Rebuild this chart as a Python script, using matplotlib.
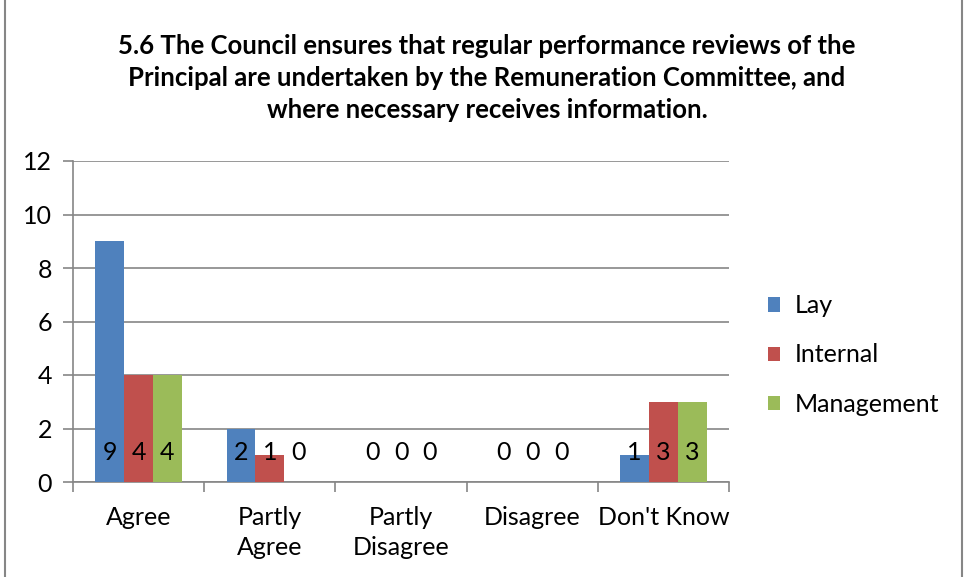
import numpy as np
import matplotlib
matplotlib.use("Agg")
import matplotlib.pyplot as plt
from matplotlib.patches import Rectangle

plt.rcParams['font.family'] = ['Lato', 'DejaVu Sans']

categories = ["Agree", "Partly\nAgree", "Partly\nDisagree", "Disagree", "Don't Know"]
series = ["Lay", "Internal", "Management"]
lay = [9, 2, 0, 0, 1]
internal = [4, 1, 0, 0, 3]
management = [4, 0, 0, 0, 3]
colors = ["#4F81BD", "#C0504D", "#9BBB59"]
title = ("5.6 The Council ensures that regular performance reviews of the\n"
         "Principal are undertaken by the Remuneration Committee, and\n"
         "where necessary receives information.")

fs = 18
fig = plt.figure(figsize=(9.65, 5.77), dpi=100)
ax = fig.add_axes([73 / 965, 1 - 482 / 577, (729 - 73) / 965, (482 - 161) / 577])

x = np.arange(len(categories))
w = 0.22
for i, (vals, c, name) in enumerate(zip([lay, internal, management], colors, series)):
    pos = x + (i - 1) * w
    ax.bar(pos, vals, w, color=c, label=name, zorder=3)
    for p, v in zip(pos, vals):
        ax.text(p, 1.1, str(v), ha='center', va='center', fontsize=fs, zorder=4)

ax.set_xlim(-0.5, len(categories) - 0.5)
ax.set_ylim(0, 12)
ax.set_yticks(range(0, 13, 2))
ax.yaxis.grid(True, color='#868686', linewidth=1.2, zorder=0)
ax.set_xticks(np.arange(-0.5, len(categories), 1), minor=False)
ax.set_xticklabels([])
ax.set_xticks(x, minor=True)
ax.set_xticklabels(categories, minor=True, fontsize=fs, linespacing=1.4)
ax.tick_params(axis='x', which='minor', length=0, pad=17)
ax.tick_params(axis='x', which='major', length=7, color='#868686', width=1.2)
ax.tick_params(axis='y', length=7, color='#868686', width=1.2, labelsize=fs, pad=8)
for s in ['top', 'right']:
    ax.spines[s].set_visible(False)
for s in ['left', 'bottom']:
    ax.spines[s].set_color('#868686')
    ax.spines[s].set_linewidth(1.2)

fig.text(487 / 965, 1 - 77.5 / 577, title, ha='center', va='center',
         fontsize=18.5, fontweight='bold', linespacing=1.4)

ax.legend(loc='center left', bbox_to_anchor=(745 / 965, 1 - 355 / 577),
          bbox_transform=fig.transFigure, frameon=False, fontsize=fs,
          handlelength=0.5, handleheight=0.5, handletextpad=0.6, labelspacing=1.05)

fig.patches.append(Rectangle((5 / 965, -0.01), 957 / 965, 1.1, transform=fig.transFigure,
                             fill=False, edgecolor='#868686', linewidth=1.5))

fig.savefig("out.png", dpi=100)
